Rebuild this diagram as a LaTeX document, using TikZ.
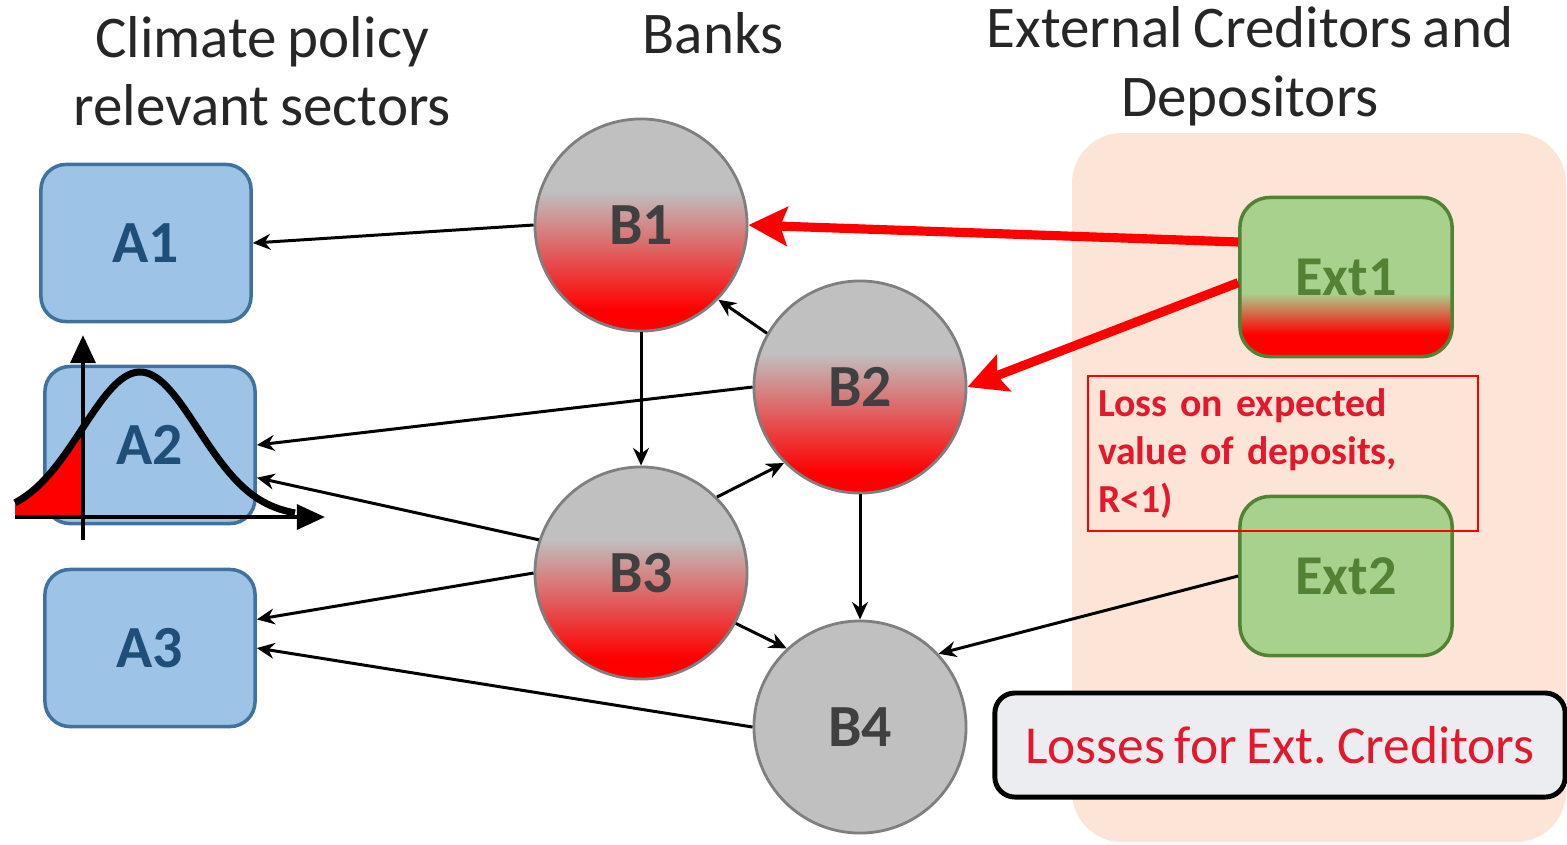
\documentclass[tikz,border=0pt]{standalone}
\usepackage{fontspec}
\setmainfont{Carlito}[WordSpace=0.8]
\usetikzlibrary{arrows.meta}

\definecolor{sectorblue}{RGB}{157,195,230}
\definecolor{sectorline}{RGB}{65,113,156}
\definecolor{sectortext}{RGB}{31,78,121}
\definecolor{bankgray}{RGB}{192,192,192}
\definecolor{bankline}{RGB}{127,127,127}
\definecolor{banktext}{RGB}{64,64,64}
\definecolor{extgreen}{RGB}{169,209,142}
\definecolor{extline}{RGB}{84,130,53}
\definecolor{extpeach}{RGB}{252,228,214}
\definecolor{lossred}{RGB}{228,24,44}
\definecolor{notegray}{RGB}{236,237,240}

\newcommand\notefont{\fontsize{11.3}{13.7}\selectfont\bfseries\spaceskip=0.2em plus 0.1em\relax}

\pgfdeclareverticalshading{bankshade}{100bp}{color(0bp)=(red); color(30bp)=(red); color(58bp)=(bankgray); color(100bp)=(bankgray)}
\pgfdeclareverticalshading{extshade}{100bp}{color(0bp)=(red); color(32bp)=(red); color(45bp)=(extgreen); color(100bp)=(extgreen)}

\tikzset{
  heading/.style={align=center, text=black!85, font=\fontsize{16.8}{19.5}\selectfont},
  sector/.style={draw=sectorline, line width=1pt, fill=sectorblue, rounded corners=0.25cm,
    minimum width=2.1cm, minimum height=1.57cm, text=sectortext, font=\fontsize{17}{20}\selectfont\bfseries},
  bank/.style={circle, draw=bankline, line width=0.8pt, fill=bankgray, minimum size=2.12cm,
    text=banktext, font=\fontsize{17}{20}\selectfont\bfseries},
  shocked/.style={shade, shading=bankshade},
  ext/.style={draw=extline, line width=1pt, fill=extgreen, rounded corners=0.3cm,
    minimum width=2.12cm, minimum height=1.59cm, text=extline, font=\fontsize{16}{19}\selectfont\bfseries},
  link/.style={-{Stealth[length=5pt,width=4.5pt]}, line width=0.85pt},
  redlink/.style={-{Stealth[length=11pt,width=11pt,inset=2pt]}, red, line width=2.6pt},
}

\begin{document}
\frenchspacing
\begin{tikzpicture}[x=0.01cm, y=-0.01cm]
\useasboundingbox (0,0) rectangle (1567,844);

% headings
\node[heading] (hsector) at (262,71) {Climate policy\\relevant sectors};
\node[heading] (hbank) at (713,33) {Banks};
\node[heading] (hext) at (1250,66) {External Creditors and\\Depositors};

% creditors area
\fill[extpeach, rounded corners=0.5cm] (1072,133) rectangle (1566,842);

% sectors
\node[sector] (A1) at (146,243) {A1};
\node[sector] (A2) at (150,445) {A2};
\node[sector] (A3) at (150,648) {A3};

% banks
\node[bank, shocked] (B1) at (641,225) {B1};
\node[bank, shocked] (B2) at (860,387) {B2};
\node[bank, shocked] (B3) at (641,573) {B3};
\node[bank] (B4) at (860,727) {B4};

% external creditors
\node[ext, shade, shading=extshade] (Ext1) at (1346,277) {Ext1};
\node[ext] (Ext2) at (1346,576) {Ext2};

\node[draw=red, line width=0.6pt, anchor=north west, text width=3.7cm, minimum height=1.55cm,
  inner xsep=0.1cm, align=left, text=lossred, font=\notefont]
  (lossnote) at (1087,375) {Loss on expected\\value of deposits,\\R<1)};

\node[draw, line width=1.4pt, rounded corners=0.2cm, fill=notegray, minimum width=5.7cm,
  minimum height=1.04cm, text=lossred, font=\fontsize{15.2}{18}\selectfont]
  (extloss) at (1280,745) {Losses for Ext. Creditors};

% exposures
\draw[link] (B1.west) -- (A1.east);
\draw[link] (B2.west) -- (A2.east);
\draw[link] (B3.162) -- (A2.-17);
\draw[link] (B3.west) -- (A3.15);
\draw[link] (B4.west) -- (A3.east);
\draw[link] (B1.south) -- (B3.north);
\draw[link] (B2.150) -- (B1.-44);
\draw[link] (B3.45) -- (B2.-135);
\draw[link] (B2.south) -- (B4.north);
\draw[link] (B3.-28) -- (B4.133);
\draw[link] (Ext2.west) -- (B4.43);
\draw[redlink] (Ext1.162) -- (B1.east);
\draw[redlink] (Ext1.183) -- (B2.east);

% loss distribution
\fill[red] (15,517) -- plot[domain=15:83, samples=30] (\x, {517-145*exp(((\x-140)/58)^2*(-0.5))}) -- (83,517) -- cycle;
\draw[line width=1.3pt, -{Triangle[length=8pt,width=7pt]}] (83,540) -- (83,335);
\draw[line width=1.3pt, -{Triangle[length=8pt,width=7pt]}] (15,517) -- (325,517);
\draw[line width=2pt] plot[domain=15:295, samples=80, smooth] (\x, {517-145*exp(((\x-140)/58)^2*(-0.5))});
\end{tikzpicture}
\end{document}
